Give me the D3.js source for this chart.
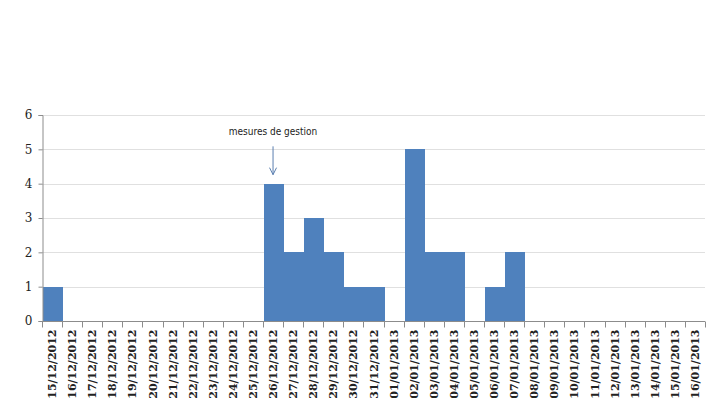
<!DOCTYPE html>
<html>
<head>
<meta charset="utf-8">
<script src="https://cdn.jsdelivr.net/npm/d3@7"></script>
<style>
  html, body { margin: 0; padding: 0; background: #fff; }
  svg { display: block; }
</style>
</head>
<body>
<svg id="chart" width="713" height="398"></svg>
<script>
// Daily counts, 15/12/2012 to 16/01/2013
const dates = [
  "15/12/2012","16/12/2012","17/12/2012","18/12/2012","19/12/2012","20/12/2012",
  "21/12/2012","22/12/2012","23/12/2012","24/12/2012","25/12/2012","26/12/2012",
  "27/12/2012","28/12/2012","29/12/2012","30/12/2012","31/12/2012","01/01/2013",
  "02/01/2013","03/01/2013","04/01/2013","05/01/2013","06/01/2013","07/01/2013",
  "08/01/2013","09/01/2013","10/01/2013","11/01/2013","12/01/2013","13/01/2013",
  "14/01/2013","15/01/2013","16/01/2013"
];
const counts = [
  1,0,0,0,0,0,
  0,0,0,0,0,4,
  2,3,2,1,1,0,
  5,2,2,0,1,2,
  0,0,0,0,0,0,
  0,0,0
];
const yTicks = [0,1,2,3,4,5,6];
const annotationText = "mesures de gestion";
const annotationDate = "26/12/2012";

const svg = d3.select("#chart");
const margin = { left: 42, right: 8, top: 115, bottom: 77 };
const W = 713, H = 398;

const x = d3.scaleBand().domain(dates).range([margin.left, W - margin.right]).padding(0);
const y = d3.scaleLinear().domain([0, 6]).range([H - margin.bottom, margin.top]);

// horizontal gridlines
svg.append("g").selectAll("line").data(yTicks.filter(d => d > 0)).join("line")
  .attr("x1", margin.left).attr("x2", W - margin.right)
  .attr("y1", d => Math.round(y(d)) + 0.5).attr("y2", d => Math.round(y(d)) + 0.5)
  .attr("stroke", "#e0e0e0").attr("stroke-width", 1);

// bars, snapped to whole pixels so neighbours join without seams
const px = d => Math.round(x(d));
svg.append("g").attr("shape-rendering", "crispEdges")
  .selectAll("rect").data(dates).join("rect")
  .attr("x", d => px(d) + 1)
  .attr("width", d => Math.round(x(d) + x.bandwidth()) - px(d))
  .attr("y", (d, i) => Math.round(y(counts[i])))
  .attr("height", (d, i) => Math.round(y(0)) - Math.round(y(counts[i])))
  .attr("fill", "#4f81bd");

// y axis
const yAxis = svg.append("g")
  .attr("transform", `translate(${margin.left + 0.5},0)`)
  .call(d3.axisLeft(y).tickValues(yTicks).tickFormat(d3.format("d")).tickSize(4).tickPadding(6));
yAxis.select(".domain").attr("stroke", "#8c8c8c");
yAxis.selectAll(".tick line").attr("stroke", "#8c8c8c");
yAxis.selectAll("text")
  .attr("font-family", "'DejaVu Serif', serif")
  .attr("font-size", 12)
  .attr("fill", "#222");

// x axis: ticks at category boundaries
const xg = svg.append("g").attr("transform", `translate(0,${Math.round(y(0)) + 0.5})`);
xg.append("line").attr("x1", margin.left).attr("x2", W - margin.right)
  .attr("stroke", "#8c8c8c");
const bounds = dates.map(d => x(d)).concat([x(dates[dates.length - 1]) + x.bandwidth()]);
xg.selectAll("line.tk").data(bounds).join("line").attr("class", "tk")
  .attr("x1", d => Math.round(d) + 0.5).attr("x2", d => Math.round(d) + 0.5)
  .attr("y1", 0).attr("y2", 6)
  .attr("stroke", "#8c8c8c");
xg.selectAll("text").data(dates).join("text")
  .attr("transform", d => `translate(${x(d) + x.bandwidth() / 2 + 4},8) rotate(-90)`)
  .attr("text-anchor", "end")
  .attr("font-family", "'DejaVu Serif', serif")
  .attr("font-weight", "bold")
  .attr("font-size", 11)
  .attr("fill", "#222")
  .text(d => d);

// annotation with arrow
const ax = x(annotationDate) + x.bandwidth() / 2;
const ai = dates.indexOf(annotationDate);
svg.append("text")
  .attr("x", ax).attr("y", y(5) - 14)
  .attr("text-anchor", "middle")
  .attr("font-family", "'DejaVu Sans Condensed', 'DejaVu Sans', sans-serif")
  .attr("font-stretch", "condensed")
  .attr("font-size", 10)
  .attr("fill", "#222")
  .text(annotationText);
const tipY = y(counts[ai]) - 9;
svg.append("line")
  .attr("x1", ax).attr("x2", ax)
  .attr("y1", y(5) - 3).attr("y2", tipY)
  .attr("stroke", "#5b7fb0").attr("stroke-width", 1);
svg.append("path")
  .attr("d", `M${ax - 3.5},${tipY - 7} L${ax},${tipY} L${ax + 3.5},${tipY - 7}`)
  .attr("fill", "none").attr("stroke", "#5b7fb0").attr("stroke-width", 1);
</script>
</body>
</html>
